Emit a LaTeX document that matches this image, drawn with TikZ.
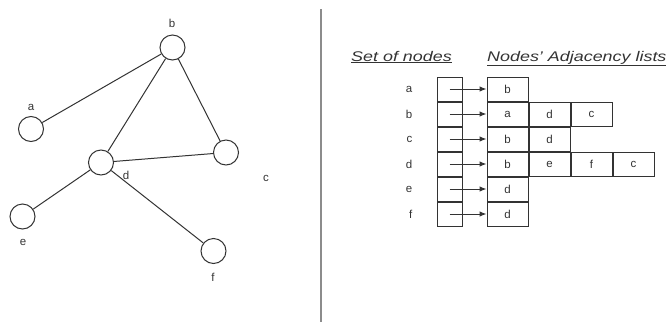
\documentclass[tikz,border=0pt]{standalone}
\usepackage{fontspec}
\setmainfont{Liberation Sans}
\usetikzlibrary{positioning, arrows.meta}
\newcommand{\headtext}[1]{\scalebox{1.28}[1]{\underline{#1}}}
\tikzset{
	vertex/.style = {circle, draw = black!80, line width = 1pt, minimum size = 25pt, inner sep = 0pt},
	edge/.style = {black!80, line width = 1pt},
	letter/.style = {font = \fontsize{11.5}{13}\selectfont, text = black!80, inner sep = 0pt},
	setbox/.style = {draw = black!80, line width = 1pt, minimum width = 25pt, minimum height = 24pt, inner sep = 0pt},
	cell/.style = {draw = black!80, line width = 1pt, minimum width = 41pt, minimum height = 24pt, inner sep = 0pt, letter},
	head/.style = {font = \itshape\fontsize{14}{16}\selectfont, text = black!80, inner sep = 0pt, anchor = base west},
}
\begin{document}
\begin{tikzpicture}[x = 1pt, y = -1pt]
				\useasboundingbox (0, 0) rectangle (669, 322);
				% the graph
				\node[vertex] (b) at (172.5, 47.5) {};
				\node[vertex] (a) at (31, 129) {};
				\node[vertex] (d) at (101, 162.5) {};
				\node[vertex] (c) at (226, 152.5) {};
				\node[vertex] (e) at (22.5, 216.5) {};
				\node[vertex] (f) at (213.5, 251) {};
				\node[letter] (lb) at (172, 23) {b};
				\node[letter] (la) at (31, 107) {a};
				\node[letter] (ld) at (126, 175) {d};
				\node[letter] (lc) at (266, 178) {c};
				\node[letter] (le) at (23, 242) {e};
				\node[letter] (lf) at (213, 277) {f};
				\draw[edge] (a) -- (b);
				\draw[edge] (b) -- (d);
				\draw[edge] (b) -- (c);
				\draw[edge] (d) -- (c);
				\draw[edge] (d) -- (e);
				\draw[edge] (d) -- (f);
				% divider
				\draw[black!45, line width = 1.5pt] (321, 9) -- (321, 322);
				% headings
				\node[head] (hset) at (351, 61) {\headtext{Set of nodes}};
				\node[head] (hadj) at (487, 61) {\headtext{Nodes' Adjacency lists}};
				% set of nodes
				\node[setbox] (sa) at (449.5, 89) {};
				\node[setbox, below = 0pt of sa] (sb) {};
				\node[setbox, below = 0pt of sb] (sc) {};
				\node[setbox, below = 0pt of sc] (sd) {};
				\node[setbox, below = 0pt of sd] (se) {};
				\node[setbox, below = 0pt of se] (sf) {};
				\node[letter, left = 24pt of sa] (ta) {a};
				\node[letter, left = 24pt of sb] (tb) {b};
				\node[letter, left = 24pt of sc] (tc) {c};
				\node[letter, left = 24pt of sd] (td) {d};
				\node[letter, left = 24pt of se] (te) {e};
				\node[letter, left = 24pt of sf] (tf) {f};
				% adjacency lists
				\node[cell] (a1) at (507.5, 89) {b};
				\node[cell, below = 0pt of a1] (b1) {a};
				\node[cell, right = 0pt of b1] (b2) {d};
				\node[cell, right = 0pt of b2] (b3) {c};
				\node[cell, below = 0pt of b1] (c1) {b};
				\node[cell, right = 0pt of c1] (c2) {d};
				\node[cell, below = 0pt of c1] (d1) {b};
				\node[cell, right = 0pt of d1] (d2) {e};
				\node[cell, right = 0pt of d2] (d3) {f};
				\node[cell, right = 0pt of d3] (d4) {c};
				\node[cell, below = 0pt of d1] (e1) {d};
				\node[cell, below = 0pt of e1] (f1) {d};
				\draw[edge, -{Latex[length = 7pt, width = 5.5pt]}] (sa.center) -- (a1);
				\draw[edge, -{Latex[length = 7pt, width = 5.5pt]}] (sb.center) -- (b1);
				\draw[edge, -{Latex[length = 7pt, width = 5.5pt]}] (sc.center) -- (c1);
				\draw[edge, -{Latex[length = 7pt, width = 5.5pt]}] (sd.center) -- (d1);
				\draw[edge, -{Latex[length = 7pt, width = 5.5pt]}] (se.center) -- (e1);
				\draw[edge, -{Latex[length = 7pt, width = 5.5pt]}] (sf.center) -- (f1);
\end{tikzpicture}
\end{document}
